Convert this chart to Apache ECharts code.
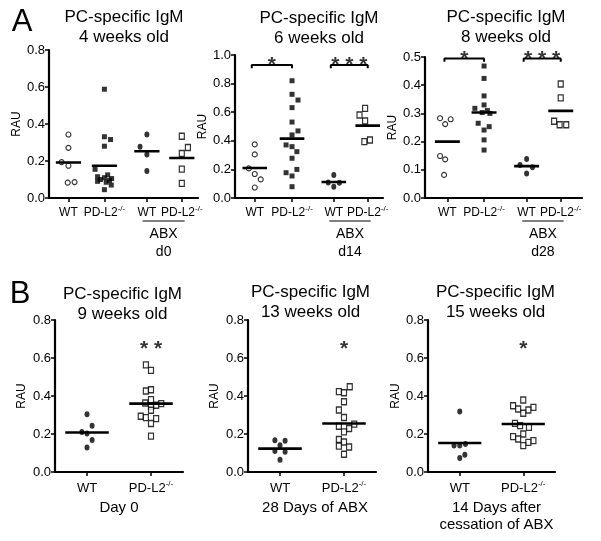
<!DOCTYPE html>
<html><head><meta charset="utf-8">
<script src="https://cdn.jsdelivr.net/npm/echarts@6/dist/echarts.min.js"></script>
<style>html,body{margin:0;padding:0;background:#fff}#c{width:601px;height:541px}</style>
</head><body><div id="c"></div>
<script>
// ================= DATA =================
const groupsA = ['WT', 'PD-L2-/-', 'WT', 'PD-L2-/-'];
const groupsB = ['WT', 'PD-L2-/-'];

// Panel A1 : 4 weeks old
const a1_title = 'PC-specific IgM\n4 weeks old';
const a1_abx = 'd0';
const a1_wt = [0.343, 0.271, 0.194, 0.174, 0.083, 0.086];
const a1_wt_j = [0, 0, -0.19, 0, -0.02, 0.17];
const a1_ko = [0.588, 0.331, 0.316, 0.280, 0.155, 0.125, 0.115, 0.110, 0.105, 0.100, 0.095, 0.090, 0.085, 0.070, 0.045];
const a1_ko_j = [0, 0, 0.17, 0, -0.26, 0.09, -0.19, 0, 0.2, -0.11, 0.14, -0.19, 0.05, 0.19, 0];
const a1_wtAbx = [0.343, 0.277, 0.235, 0.146];
const a1_wtAbx_j = [0, -0.19, 0, 0];
const a1_koAbx = [0.334, 0.273, 0.241, 0.156, 0.079];
const a1_koAbx_j = [0, 0.17, 0, 0, 0];
const a1_means = [0.192, 0.174, 0.253, 0.216];

// Panel A2 : 6 weeks old
const a2_title = 'PC-specific IgM\n6 weeks old';
const a2_abx = 'd14';
const a2_wt = [0.375, 0.305, 0.207, 0.168, 0.130, 0.073];
const a2_wt_j = [0, 0, -0.16, 0, 0.16, 0];
const a2_ko = [0.820, 0.725, 0.685, 0.632, 0.531, 0.469, 0.441, 0.371, 0.359, 0.324, 0.278, 0.200, 0.177, 0.154, 0.079];
const a2_ko_j = [0, 0, 0.16, 0, 0, 0.16, 0, -0.16, 0, 0.13, 0, 0.13, -0.16, 0, 0];
const a2_wtAbx = [0.161, 0.109, 0.079, 0.106];
const a2_wtAbx_j = [0, -0.15, 0, 0.15];
const a2_koAbx = [0.627, 0.580, 0.538, 0.394, 0.406];
const a2_koAbx_j = [-0.07, -0.22, -0.07, -0.09, 0.06];
const a2_means = [0.210, 0.415, 0.112, 0.506];
const a2_sig = ['*', '***'];
const a2_sigY = [0.97, 0.97];
const a2_bracket = [0.93, 0.907];

// Panel A3 : 8 weeks old
const a3_title = 'PC-specific IgM\n8 weeks old';
const a3_abx = 'd28';
const a3_wt = [0.283, 0.262, 0.279, 0.149, 0.137, 0.082];
const a3_wt_j = [-0.2, -0.06, 0.09, -0.2, -0.06, -0.09];
const a3_ko = [0.468, 0.424, 0.362, 0.330, 0.318, 0.310, 0.303, 0.300, 0.265, 0.253, 0.241, 0.206, 0.170];
const a3_ko_j = [0, 0, 0, 0, -0.25, 0.09, -0.05, 0.16, -0.16, 0.14, 0, 0, 0];
const a3_wtAbx = [0.138, 0.117, 0.109, 0.087];
const a3_wtAbx_j = [0, -0.18, 0.16, 0];
const a3_koAbx = [0.404, 0.355, 0.272, 0.260, 0.260];
const a3_koAbx_j = [0, 0, -0.18, -0.03, 0.15];
const a3_means = [0.200, 0.303, 0.113, 0.309];
const a3_sig = ['*', '***'];
const a3_sigY = [0.512, 0.512];
const a3_bracket = [0.495, 0.483];

// Panel B1 : 9 weeks old
const b1_title = 'PC-specific IgM\n9 weeks old';
const b1_name = 'Day 0';
const b1_wt = [0.304, 0.243, 0.211, 0.203, 0.168, 0.129];
const b1_wt_j = [0, 0.08, -0.08, 0, 0.08, 0];
const b1_ko = [0.564, 0.535, 0.426, 0.433, 0.381, 0.363, 0.360, 0.351, 0.346, 0.325, 0.293, 0.286, 0.281, 0.255, 0.189];
const b1_ko_j = [-0.08, 0, -0.08, 0, 0, -0.09, 0.16, 0.08, 0, 0, -0.16, -0.08, 0.08, 0, 0];
const b1_means = [0.208, 0.360];
const b1_sig = '**';
const b1_sigY = 0.677;

// Panel B2 : 13 weeks old
const b2_title = 'PC-specific IgM\n13 weeks old';
const b2_name = '28 Days of ABX';
const b2_wt = [0.167, 0.164, 0.141, 0.111, 0.106, 0.065];
const b2_wt_j = [-0.08, 0.08, 0, -0.08, 0.08, 0];
const b2_ko = [0.449, 0.423, 0.417, 0.370, 0.326, 0.287, 0.252, 0.241, 0.229, 0.211, 0.171, 0.158, 0.136, 0.132, 0.093];
const b2_ko_j = [0.09, -0.08, 0, 0, -0.08, 0, 0.16, -0.08, 0.08, 0, -0.08, 0, -0.08, 0.08, 0];
const b2_means = [0.123, 0.255];
const b2_sig = '*';
const b2_sigY = 0.677;

// Panel B3 : 15 weeks old
const b3_title = 'PC-specific IgM\n15 weeks old';
const b3_name = '14 Days after\ncessation of ABX';
const b3_wt = [0.319, 0.139, 0.139, 0.147, 0.091, 0.074];
const b3_wt_j = [0, -0.09, 0, 0.09, 0.08, 0];
const b3_ko = [0.379, 0.349, 0.340, 0.332, 0.326, 0.309, 0.256, 0.244, 0.235, 0.200, 0.186, 0.174, 0.165, 0.156, 0.139];
const b3_ko_j = [0, -0.16, 0.16, -0.08, 0.08, 0, -0.13, -0.05, 0.09, 0, -0.16, -0.08, 0.16, 0.08, 0];
const b3_means = [0.153, 0.253];
const b3_sig = '*';
const b3_sigY = 0.677;

// ================= STYLE / LAYOUT =================
const FONT = 'Liberation Sans, Arial, sans-serif';
const STY = {
  openCircle: { symbol: 'circle', symbolSize: 5, itemStyle: { color: '#fff', borderColor: '#000', borderWidth: 1.1 } },
  filledSquare: { symbol: 'rect', symbolSize: 5, itemStyle: { color: '#000' } },
  filledCircle: { symbol: 'circle', symbolSize: [5, 6], itemStyle: { color: '#000' } },
  openSquare: { symbol: 'rect', symbolSize: [5, 6], itemStyle: { color: '#fff', borderColor: '#000', borderWidth: 1.3 } }
};

const panels = [
  { left: 49, top: 50, width: 149, height: 148, xMin: 0.46, xMax: 4.6, yMax: 0.8, yInt: 0.2,
    pos: [1, 2, 3.18, 4.15], labels: groupsA, half: 0.35, lf: 12, labMargin: 7, yGap: 25,
    sets: [[a1_wt, a1_wt_j, 'openCircle'], [a1_ko, a1_ko_j, 'filledSquare'], [a1_wtAbx, a1_wtAbx_j, 'filledCircle'], [a1_koAbx, a1_koAbx_j, 'openSquare']],
    means: a1_means, title: a1_title, tx: 124, ty: 27.5, abx: a1_abx, sig: [] },
  { left: 235, top: 55, width: 148, height: 143, xMin: 0.47, xMax: 4.44, yMax: 1.0, yInt: 0.2,
    pos: [1, 2, 3.12, 4.03], labels: groupsA, half: 0.33, lf: 12, labMargin: 7, yGap: 22,
    sets: [[a2_wt, a2_wt_j, 'openCircle'], [a2_ko, a2_ko_j, 'filledSquare'], [a2_wtAbx, a2_wtAbx_j, 'filledCircle'], [a2_koAbx, a2_koAbx_j, 'openSquare']],
    means: a2_means, title: a2_title, tx: 319, ty: 28.5, abx: a2_abx,
    sig: [{ a: 0, b: 1, t: a2_sig[0], y: a2_sigY[0] }, { a: 2, b: 3, t: a2_sig[1], y: a2_sigY[1] }], br: a2_bracket },
  { left: 425, top: 57, width: 157, height: 141, xMin: 0.39, xMax: 4.67, yMax: 0.5, yInt: 0.1,
    pos: [1, 2, 3.16, 4.09], labels: groupsA, half: 0.34, lf: 12, labMargin: 7, yGap: 21,
    sets: [[a3_wt, a3_wt_j, 'openCircle'], [a3_ko, a3_ko_j, 'filledSquare'], [a3_wtAbx, a3_wtAbx_j, 'filledCircle'], [a3_koAbx, a3_koAbx_j, 'openSquare']],
    means: a3_means, title: a3_title, tx: 506, ty: 27.5, abx: a3_abx,
    sig: [{ a: 0, b: 1, t: a3_sig[0], y: a3_sigY[0] }, { a: 2, b: 3, t: a3_sig[1], y: a3_sigY[1] }], br: a3_bracket },
  { left: 55, top: 320, width: 128, height: 152, xMin: 0.5, xMax: 2.5, yMax: 0.8, yInt: 0.2,
    pos: [1, 2], labels: groupsB, half: 0.34, lf: 13, labMargin: 8, yGap: 27,
    sets: [[b1_wt, b1_wt_j, 'filledCircle'], [b1_ko, b1_ko_j, 'openSquare']],
    means: b1_means, title: b1_title, tx: 122.5, ty: 304, name: b1_name, namePad: 0,
    sig: [{ a: 1, b: 1, t: b1_sig, y: b1_sigY }] },
  { left: 248, top: 320, width: 128, height: 152, xMin: 0.5, xMax: 2.5, yMax: 0.8, yInt: 0.2,
    pos: [1, 2], labels: groupsB, half: 0.34, lf: 13, labMargin: 8, yGap: 27,
    sets: [[b2_wt, b2_wt_j, 'filledCircle'], [b2_ko, b2_ko_j, 'openSquare']],
    means: b2_means, title: b2_title, tx: 310.5, ty: 302, name: b2_name, namePad: 6,
    sig: [{ a: 1, b: 1, t: b2_sig, y: b2_sigY }] },
  { left: 428, top: 320, width: 127, height: 152, xMin: 0.5, xMax: 2.5, yMax: 0.8, yInt: 0.2,
    pos: [1, 2], labels: groupsB, half: 0.34, lf: 13, labMargin: 8, yGap: 23,
    sets: [[b3_wt, b3_wt_j, 'filledCircle'], [b3_ko, b3_ko_j, 'openSquare']],
    means: b3_means, title: b3_title, tx: 495.5, ty: 302.5, name: b3_name, namePad: 10,
    sig: [{ a: 1, b: 1, t: b3_sig, y: b3_sigY }] }
];

// ================= BUILD =================
const grid = [], xAxis = [], yAxis = [], series = [];
panels.forEach((p, i) => {
  grid.push({ left: p.left, top: p.top, width: p.width, height: p.height, containLabel: false });
  const fmt = v => {
    const k = p.pos.findIndex(q => Math.abs(q - v) < 1e-6);
    const t = k >= 0 ? p.labels[k] : '';
    if (t.endsWith('-/-')) return '{b|' + t.slice(0, -3) + '}{s|-/-}';
    return '{b|' + t + '}';
  };
  const xa = {
    type: 'value', gridIndex: i, min: p.xMin, max: p.xMax,
    axisLine: { show: true, onZero: false, lineStyle: { color: '#000', width: 2.2 } },
    axisTick: { show: true, customValues: p.pos, length: 4, lineStyle: { color: '#000', width: 1.5 } },
    axisLabel: { show: true, customValues: p.pos, formatter: fmt, margin: p.labMargin, color: '#000',
      rich: {
        b: { fontSize: p.lf, fontFamily: FONT, color: '#000', lineHeight: p.lf + 2, verticalAlign: 'bottom' },
        s: { fontSize: 8, fontFamily: FONT, color: '#000', lineHeight: 8, verticalAlign: 'top' }
      } },
    splitLine: { show: false }
  };
  if (p.name) {
    xa.name = p.name; xa.nameLocation = 'middle'; xa.nameGap = 27;
    xa.nameTextStyle = { fontSize: 15, fontFamily: FONT, color: '#000', lineHeight: 17, padding: [0, 0, 0, p.namePad] };
  }
  xAxis.push(xa);
  yAxis.push({
    type: 'value', gridIndex: i, min: 0, max: p.yMax, interval: p.yInt,
    axisLine: { show: true, onZero: false, lineStyle: { color: '#000', width: 2.2 } },
    axisTick: { show: true, length: 4, lineStyle: { color: '#000', width: 1.5 } },
    axisLabel: { formatter: v => v.toFixed(1), fontSize: 13, fontFamily: FONT, color: '#000', margin: 4 },
    splitLine: { show: false },
    name: 'RAU', nameLocation: 'middle', nameGap: p.yGap,
    nameTextStyle: { fontSize: 12, fontFamily: FONT, color: '#000' }
  });
  p.sets.forEach((s, g) => {
    const st = STY[s[2]];
    series.push({
      type: 'scatter', xAxisIndex: i, yAxisIndex: i, silent: true, z: 3,
      symbol: st.symbol, symbolSize: st.symbolSize, itemStyle: st.itemStyle,
      data: s[0].map((v, k) => [p.pos[g] + s[1][k], v])
    });
    series.push({
      type: 'line', xAxisIndex: i, yAxisIndex: i, silent: true, z: 4, symbol: 'none',
      lineStyle: { color: '#000', width: 2.6 },
      data: [[p.pos[g] - p.half, p.means[g]], [p.pos[g] + p.half, p.means[g]]]
    });
  });
  p.sig.forEach(sg => {
    let xc = p.pos[sg.a];
    if (sg.a !== sg.b) {
      const x1 = p.pos[sg.a] - 0.08, x2 = p.pos[sg.b];
      xc = (x1 + x2) / 2;
      series.push({
        type: 'line', xAxisIndex: i, yAxisIndex: i, silent: true, symbol: 'none', clip: false,
        lineStyle: { color: '#000', width: 2 },
        data: [[x1, p.br[1]], [x1, p.br[0]], [x2, p.br[0]], [x2, p.br[1]]]
      });
    }
    series.push({
      type: 'scatter', xAxisIndex: i, yAxisIndex: i, silent: true, clip: false, symbolSize: 0,
      data: [[xc, sg.y]],
      label: { show: true, position: 'inside', formatter: sg.t.split('').join(' '), fontSize: 21, fontWeight: 'bold',
        fontFamily: FONT, color: '#000', offset: [0, 6] }
    });
  });
});

const chart = echarts.init(document.getElementById('c'), null, { renderer: 'canvas' });
chart.setOption({ animation: false, backgroundColor: '#fff', grid, xAxis, yAxis, series });

// annotations (titles, panel letters, ABX labels)
const txt = (x, y, text, size, extra) => Object.assign({
  type: 'text', x, y, silent: true,
  style: Object.assign({ text, fill: '#000', fontSize: size, fontFamily: FONT,
    align: 'center', textAlign: 'center', verticalAlign: 'middle', textVerticalAlign: 'middle' }, extra || {})
});
const gr = [];
gr.push(txt(22, 22, 'A', 31));
gr.push(txt(20, 294, 'B', 31));
panels.forEach((p, i) => {
  gr.push(txt(p.tx, p.ty, p.title, 17, { lineHeight: 20 }));
  if (p.abx) {
    const a = chart.convertToPixel({ gridIndex: i }, [p.pos[2] - 0.12, 0]);
    const b = chart.convertToPixel({ gridIndex: i }, [p.pos[3] + 0.08, 0]);
    const cx = (a[0] + b[0]) / 2;
    gr.push({ type: 'line', silent: true, shape: { x1: a[0], y1: a[1] + 23, x2: b[0], y2: a[1] + 23 }, style: { stroke: '#000', lineWidth: 1.2 } });
    gr.push(txt(cx, a[1] + 36, 'ABX', 14));
    gr.push(txt(cx, a[1] + 54, p.abx, 14));
  }
});
chart.setOption({ graphic: gr });
</script>
</body></html>
